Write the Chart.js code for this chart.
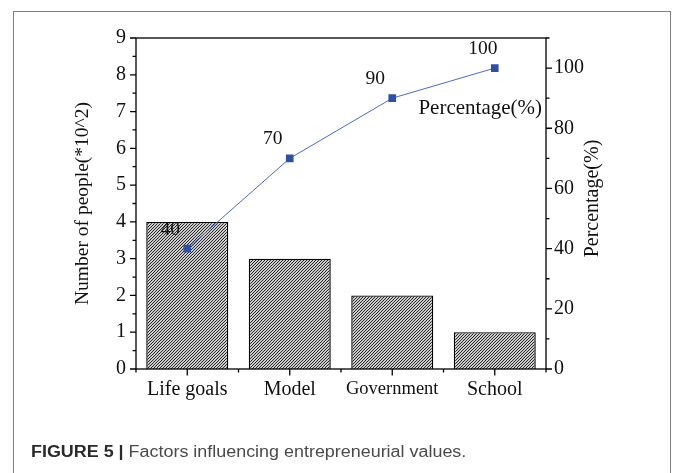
<!DOCTYPE html>
<html>
<head>
<meta charset="utf-8">
<script src="https://cdn.jsdelivr.net/npm/chart.js@4/dist/chart.umd.min.js"></script>
<style>
  html, body { margin: 0; padding: 0; background: #fff; }
  body { width: 675px; height: 473px; position: relative; overflow: hidden; }
  #frame {
    position: absolute; left: 13px; top: 11px; width: 656px; height: 480px;
    border: 1.5px solid #808080; border-bottom: none;
  }
  #wrap { position: absolute; left: 0; top: 0; width: 675px; height: 473px; }
  #caption {
    position: absolute; left: 31px; top: 443px;
    font-family: "Liberation Sans", Arial, sans-serif; font-size: 16px; color: #4a4a4a;
    white-space: nowrap; transform: scaleX(1.12); transform-origin: left top;
  }
  #caption b { color: #2a2a2a; }
</style>
</head>
<body>
<div id="frame"></div>
<div id="wrap"><canvas id="myChart" width="675" height="473"></canvas></div>
<div id="caption"><b>FIGURE 5 |</b> Factors influencing entrepreneurial values.</div>
<script>
// data
const categories = ['Life goals', 'Model', 'Government', 'School'];
const people = [4, 3, 2, 1];          // *10^2
const percentage = [40, 70, 90, 100]; // cumulative %
const leftTicks = [0, 1, 2, 3, 4, 5, 6, 7, 8, 9];
const rightTicks = [0, 20, 40, 60, 80, 100];

const serif = '"Liberation Serif", "Times New Roman", serif';

// hatch pattern for the bars
function hatch() {
    const s = 3;
    const c = document.createElement('canvas');
    c.width = s; c.height = s;
    const g = c.getContext('2d');
    g.fillStyle = '#cacaca';
    g.fillRect(0, 0, s, s);
    g.strokeStyle = '#2a2a2a';
    g.lineWidth = 1;
    g.beginPath();
    g.moveTo(0, s); g.lineTo(s, 0);
    g.moveTo(-1, 1); g.lineTo(1, -1);
    g.moveTo(s - 1, s + 1); g.lineTo(s + 1, s - 1);
    g.stroke();
    return g.createPattern(c, 'repeat');
}

// frame, tick marks, value labels and inner legend text
const decor = {
    id: 'decor',
    afterDraw(chart) {
        const { ctx, chartArea: a, scales } = chart;
        const x = scales.x, y = scales.y, y1 = scales.y1;
        ctx.save();
        ctx.strokeStyle = '#000';
        ctx.lineWidth = 1.3;
        ctx.strokeRect(a.left, a.top, a.right - a.left, a.bottom - a.top);

        ctx.beginPath();
        // left axis, major + minor
        for (let v = 0; v <= 9; v += 0.5) {
            const py = y.getPixelForValue(v);
            const len = Number.isInteger(v) ? 6 : 3.5;
            ctx.moveTo(a.left, py); ctx.lineTo(a.left - len, py);
        }
        // right axis, major + minor
        for (let v = 0; v <= 110; v += 10) {
            const py = y1.getPixelForValue(v);
            const len = v % 20 === 0 ? 6 : 3.5;
            ctx.moveTo(a.right, py); ctx.lineTo(a.right + len, py);
        }
        // bottom axis
        const half = (x.getPixelForValue(1) - x.getPixelForValue(0)) / 2;
        categories.forEach((c, i) => {
            const px = x.getPixelForValue(i);
            ctx.moveTo(px, a.bottom); ctx.lineTo(px, a.bottom + 6.5);
            ctx.moveTo(px - half, a.bottom); ctx.lineTo(px - half, a.bottom + 3.5);
            if (i === categories.length - 1) {
                ctx.moveTo(px + half, a.bottom); ctx.lineTo(px + half, a.bottom + 3.5);
            }
        });
        ctx.stroke();

        // value labels over the line points
        ctx.fillStyle = '#111';
        ctx.font = '19.5px ' + serif;
        ctx.textAlign = 'center';
        ctx.textBaseline = 'middle';
        const meta = chart.getDatasetMeta(1);
        meta.data.forEach((pt, i) => {
            const dx = i === 3 ? -12 : -17;
            ctx.fillText(String(percentage[i]), pt.x + dx, pt.y - 19);
        });

        // legend text inside the plot
        ctx.font = '21px ' + serif;
        ctx.textAlign = 'right';
        ctx.fillText('Percentage(%)', a.right - 4, a.top + 70);

        // right axis title, reading upward
        ctx.font = '20px ' + serif;
        ctx.save();
        ctx.translate(a.right + 47, (a.top + a.bottom) / 2 - 5);
        ctx.rotate(-Math.PI / 2);
        ctx.textAlign = 'center';
        ctx.fillText('Percentage(%)', 0, 0);
        ctx.restore();
        ctx.restore();
    }
};

const ctx = document.getElementById('myChart').getContext('2d');
const myChart = new Chart(ctx, {
    data: {
        labels: categories,
        datasets: [{
            type: 'bar',
            label: 'Number of people',
            data: people,
            yAxisID: 'y',
            backgroundColor: hatch(),
            borderColor: '#000',
            borderWidth: 1.4,
            barPercentage: 0.8,
            categoryPercentage: 1,
            order: 2
        }, {
            type: 'line',
            label: 'Percentage(%)',
            data: percentage,
            yAxisID: 'y1',
            borderColor: '#4a6cc6',
            borderWidth: 1,
            pointStyle: 'rect',
            pointRadius: 5.4,
            pointBackgroundColor: '#2f4fa5',
            pointBorderColor: '#2f4fa5',
            pointBorderWidth: 0,
            order: 1
        }]
    },
    options: {
        responsive: false,
        animation: false,
        layout: { padding: { top: 38, left: 0, right: 0, bottom: 0 } },
        plugins: {
            legend: { display: false },
            tooltip: { enabled: false }
        },
        scales: {
            x: {
                grid: { display: false, drawTicks: false },
                border: { display: false },
                ticks: {
                    color: '#111',
                    padding: 9,
                    font: (c) => ({ family: serif, size: c.index === 2 ? 18.5 : 20 })
                },
                afterFit: (s) => { s.height = 104; }
            },
            y: {
                position: 'left',
                min: 0,
                max: 9,
                grid: { display: false, drawTicks: false },
                border: { display: false },
                ticks: {
                    stepSize: 1,
                    padding: 10,
                    color: '#111',
                    font: { family: serif, size: 20 },
                    callback: (v) => leftTicks.includes(v) ? v : ''
                },
                title: {
                    display: true,
                    text: 'Number of people(*10^2)',
                    color: '#111',
                    font: { family: serif, size: 19.5 },
                    padding: { top: 71, bottom: 0 }
                },
                afterFit: (s) => { s.width = 136; }
            },
            y1: {
                position: 'right',
                min: 0,
                max: 110,
                grid: { display: false, drawTicks: false },
                border: { display: false },
                ticks: {
                    stepSize: 20,
                    padding: 8,
                    color: '#111',
                    font: { family: serif, size: 20 },
                    callback: (v) => rightTicks.includes(v) ? v : ''
                },
                afterFit: (s) => { s.width = 129; }
            }
        }
    },
    plugins: [decor]
});
</script>
</body>
</html>
